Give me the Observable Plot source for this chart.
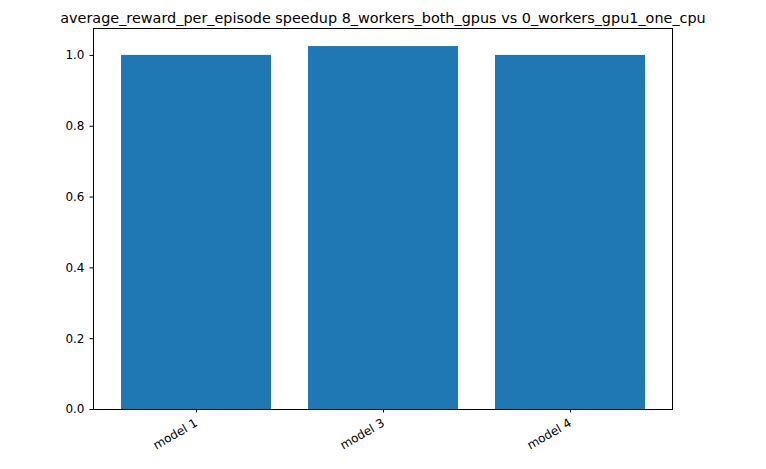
<!DOCTYPE html>
<html><head>
<script src="https://cdn.jsdelivr.net/npm/d3@7"></script>
<script src="https://cdn.jsdelivr.net/npm/@observablehq/plot@0.6"></script>
<style>body{margin:0;background:#fff}</style>
</head><body><div id="chart"></div>
<script>
const models = ["model 1", "model 3", "model 4"];
const speedup = [1.0, 1.025, 1.0];
const yTicks = [0, 0.2, 0.4, 0.6, 0.8, 1.0];
const title = "average_reward_per_episode speedup 8_workers_both_gpus vs 0_workers_gpu1_one_cpu";

const data = models.map((m, i) => ({model: m, value: speedup[i]}));

const chart = Plot.plot({
  width: 766, height: 469,
  marginLeft: 93, marginRight: 94, marginTop: 28, marginBottom: 60,
  style: {fontFamily: "DejaVu Sans", fontSize: "12px", color: "black"},
  x: {domain: models, padding: 0.2, paddingOuter: 0.14, label: null, tickSize: 3.5, tickRotate: -30},
  y: {domain: [0, 1.076], ticks: yTicks, tickFormat: d3.format(".1f"), label: null, tickSize: 3.5},
  marks: [
    Plot.barY(data, {x: "model", y: "value", fill: "#1f77b4"}),
    Plot.frame({stroke: "black"}),
    Plot.text([title], {frameAnchor: "top", dy: -16, fontSize: 14.4, text: d => d})
  ]
});
d3.select("#chart").append(() => chart);
</script>
</body></html>
